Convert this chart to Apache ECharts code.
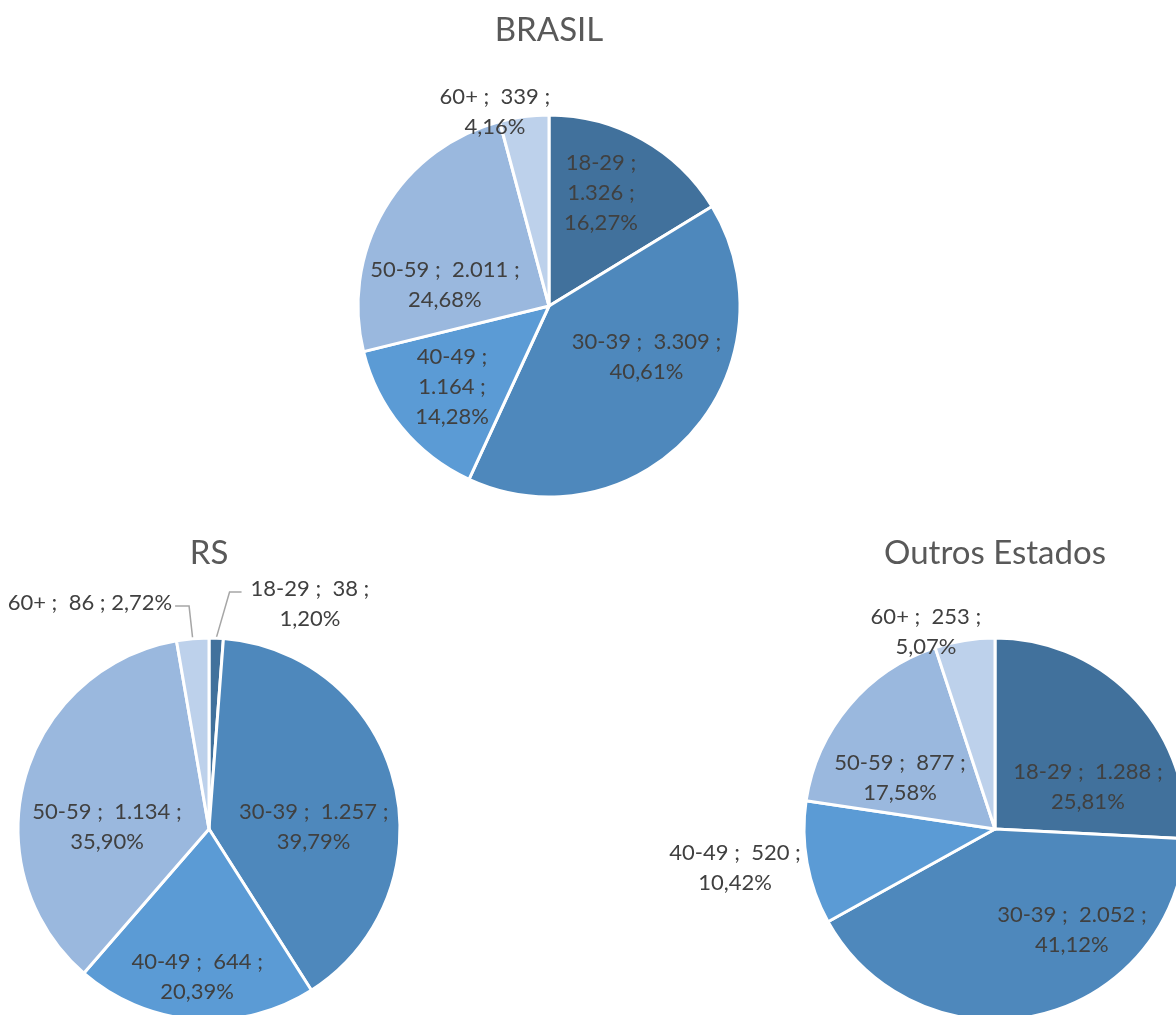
<!DOCTYPE html>
<html>
<head>
<meta charset="utf-8">
<script src="https://cdn.jsdelivr.net/npm/echarts@6/dist/echarts.min.js"></script>
<style>
html,body{margin:0;padding:0;background:#ffffff;}
#chart{width:1176px;height:1015px;}
</style>
</head>
<body>
<div id="chart"></div>
<script>
// ---------------- DATA ----------------
const categories = ['18-29', '30-39', '40-49', '50-59', '60+'];
const pieTitles = ['BRASIL', 'RS', 'Outros Estados'];
const brasilValues = [1326, 3309, 1164, 2011, 339];
const rsValues = [38, 1257, 644, 1134, 86];
const outrosValues = [1288, 2052, 520, 877, 253];

// ---------------- STYLE / LAYOUT ----------------
const sliceColors = ['#41719C', '#4E88BC', '#5B9BD5', '#9AB8DE', '#BDD1EB'];
const pieRadius = 191;
const pieCenters = [[549, 306], [209, 829], [995, 829]];
const titleTops = [10, 533, 533];
// label wrap style per slice: a = "cat ; val ;\npct", b = 3 lines, c = 1 line
const labelWraps = [
  ['b', 'a', 'b', 'a', 'a'],
  ['a', 'a', 'a', 'a', 'c'],
  ['a', 'a', 'a', 'a', 'a']
];
// label distance from centre as fraction of radius, and angular nudge from slice mid-angle (deg)
const labelRadii = [
  [0.651, 0.575, 0.662, 0.556, 1.054],
  [1.291, 0.548, 0.777, 0.534, 1.337],
  [0.534, 0.665, 1.376, 0.564, 1.093]
];
const labelNudges = [
  [-4.6, -14.2, -0.4, -19.2, -8.1],
  [22.0, 13.0, 0.3, -14.5, -22.9],
  [19.2, -24.2, 1.8, -11.9, -10.2]
];
// which labels have leader lines (side of label relative to pie: 1 right, -1 left)
const leaderLines = [
  [0, 0, 0, 0, 0],
  [1, 0, 0, 0, -1],
  [0, 0, 0, 0, 0]
];

const labelFont = 'Lato';
const labelSize = 22;
const labelLineH = 30;

function fmtInt(n) {
  return String(n).replace(/\B(?=(\d{3})+(?!\d))/g, '.');
}
function fmtPct(v, total) {
  return (v / total * 100).toFixed(2).replace('.', ',') + '%';
}

const allValues = [brasilValues, rsValues, outrosValues];

const series = allValues.map(function (vals, s) {
  const total = vals.reduce(function (a, b) { return a + b; }, 0);
  // mid angles (deg clockwise from 12 o'clock)
  const mids = [];
  let acc = 0;
  vals.forEach(function (v) {
    mids.push((acc + v / 2) / total * 360);
    acc += v;
  });
  const cx = pieCenters[s][0], cy = pieCenters[s][1];
  return {
    type: 'pie',
    name: pieTitles[s],
    center: [cx, cy],
    radius: pieRadius,
    startAngle: 90,
    clockwise: true,
    avoidLabelOverlap: false,
    silent: true,
    animation: false,
    color: sliceColors,
    itemStyle: { borderColor: '#ffffff', borderWidth: 3 },
    emphasis: { disabled: true },
    label: {
      show: true,
      position: 'outside',
      overflow: 'none',
      fontFamily: labelFont,
      fontSize: labelSize,
      lineHeight: labelLineH,
      color: '#404040',
      align: 'center',
      formatter: function (p) {
        const i = p.dataIndex;
        const cat = categories[i];
        const val = fmtInt(vals[i]);
        const pct = fmtPct(vals[i], total);
        const w = labelWraps[s][i];
        if (w === 'b') return cat + ' ;\n' + val + ' ;\n' + pct;
        if (w === 'c') return cat + ' ;  ' + val + ' ; ' + pct;
        return cat + ' ;  ' + val + ' ;\n' + pct;
      }
    },
    labelLine: { show: false },
    labelLayout: function (p) {
      const i = p.dataIndex;
      const ang = (mids[i] + labelNudges[s][i]) * Math.PI / 180;
      const R = pieRadius * labelRadii[s][i];
      const x = cx + R * Math.sin(ang);
      const y = cy - R * Math.cos(ang);
      const out = { x: x, y: y, align: 'center', verticalAlign: 'middle' };
      const side = leaderLines[s][i];
      if (side) {
        const ma = mids[i] * Math.PI / 180;
        const p0 = [cx + pieRadius * Math.sin(ma), cy - pieRadius * Math.cos(ma)];
        const w = p.labelRect.width, h = p.labelRect.height;
        const ly = y - h / 2 + labelLineH / 2 + 3;
        const p2 = side > 0 ? [x - w / 2 - 9, ly] : [x + w / 2 + 3, ly];
        const p1 = side > 0 ? [p2[0] - 12, ly] : [p2[0] + 14, ly];
        out.labelLinePoints = [p0, p1, p2];
      }
      return out;
    },
    data: vals.map(function (v, i) {
      const item = { name: categories[i], value: v };
      if (leaderLines[s][i]) {
        item.labelLine = { show: true, lineStyle: { color: '#A6A6A6', width: 1.5 } };
      }
      return item;
    })
  };
});

const titles = pieTitles.map(function (t, s) {
  return {
    text: t,
    left: pieCenters[s][0],
    top: titleTops[s],
    textAlign: 'center',
    padding: 0,
    textStyle: {
      fontFamily: labelFont,
      fontSize: 33,
      fontWeight: 'normal',
      color: '#595959',
      lineHeight: 40
    }
  };
});

const chart = echarts.init(document.getElementById('chart'), null, { renderer: 'canvas' });
chart.setOption({
  backgroundColor: '#ffffff',
  animation: false,
  title: titles,
  series: series
});
</script>
</body>
</html>
